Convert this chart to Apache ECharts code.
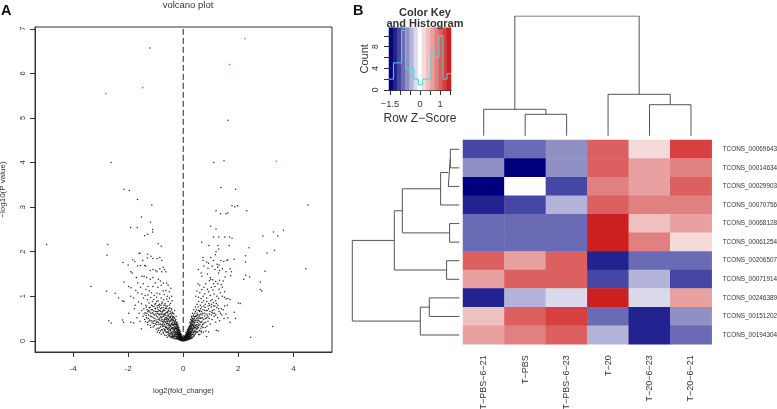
<!DOCTYPE html>
<html><head><meta charset="utf-8">
<style>html,body{margin:0;padding:0;background:#fff}#c{width:777px;height:409px}</style>
<script src="https://cdn.jsdelivr.net/npm/echarts@6/dist/echarts.min.js"></script>
</head><body><div id="c"></div>
<script>
const volcanoXTicks=[-4,-2,0,2,4];
const volcanoYTicks=[0,1,2,3,4,5,6,7];
const redPoints=[[-1.47,5.68],[-2.81,5.55],[3.38,4.03],[2.24,6.78],[1.68,6.2]];
const sparsePoints=[[-1.21,6.57],[1.63,4.95],[-2.62,4.0],[1.11,4.0],[1.48,4.04],[-2.15,3.4],[-1.96,3.37],[1.37,3.44],[1.9,3.4],[-1.66,3.17],[-1.14,3.05],[4.53,3.05],[1.77,3.03],[1.87,3.01],[1.97,3.03],[1.19,2.92],[1.35,2.85],[1.55,2.85],[1.62,2.87],[2.31,2.92],[-1.52,2.78],[-1.19,2.66],[-1.91,2.54],[-1.67,2.54],[-1.11,2.5],[-1.11,2.44],[-1.4,2.36],[-1.29,2.39],[1.0,2.57],[1.19,2.51],[3.64,2.48],[3.28,2.44],[2.89,2.35],[3.43,2.35],[1.1,2.33],[1.29,2.33],[1.51,2.33],[1.68,2.33],[1.77,2.3],[-0.91,2.18],[-0.8,2.12],[-2.74,2.16],[-4.96,2.16],[0.67,2.21],[0.93,2.14],[1.26,2.14],[1.67,2.14],[2.39,2.09],[3.31,2.03],[3.04,1.97],[1.29,2.06],[1.19,2.0],[-2.77,1.92],[-1.57,1.97],[-1.29,1.94],[2.26,1.91],[4.45,1.62],[2.97,1.56],[2.26,1.77],[2.41,1.43],[2.27,1.47],[2.2,1.38],[2.8,1.32],[2.8,1.15],[2.85,1.12],[2.0,0.85],[2.07,0.84],[2.45,0.08],[3.25,0.32],[1.85,0.64],[1.9,0.5],[-2.7,0.45],[-2.62,0.4],[-2.2,0.47],[-2.17,0.42],[-1.9,0.42],[-1.8,0.4],[1.2,0.24],[1.27,0.22],[0.85,0.1]];
const leftUpperPoints=[[-2.19,1.76],[-2.0,1.7],[-1.83,1.82],[-1.76,1.78],[-1.65,1.68],[-1.6,1.96],[-1.55,1.69],[-1.47,1.8],[-1.4,1.69],[-1.36,1.68],[-1.3,1.86],[-1.17,1.9],[-1.1,1.85],[-0.95,1.85],[-0.85,1.87],[-0.78,1.8],[-0.73,1.65],[-1.2,1.58],[-1.1,1.6],[-1.0,1.58],[-0.95,1.55],[-0.85,1.62],[-0.78,1.55],[-0.68,1.6],[-0.63,1.55],[-1.9,1.55],[-1.85,1.52],[-1.7,1.42],[-1.5,1.45],[-1.42,1.45],[-1.33,1.42],[-1.2,1.38],[-1.1,1.42],[-0.9,1.38],[-0.83,1.34],[-0.72,1.3],[-0.6,1.3],[-0.55,1.25],[-2.15,1.32],[-1.98,1.22],[-1.9,1.19],[-1.65,1.3],[-1.55,1.2],[-1.45,1.28],[-1.35,1.15],[-1.28,1.22],[-1.1,1.22],[-1.02,1.3],[-0.92,1.2],[-0.8,1.25],[-0.73,1.12],[-0.63,1.13],[-0.5,1.1],[-0.45,1.18],[-3.35,1.22],[-2.78,1.11],[-2.47,1.07],[-2.35,0.96],[-2.2,0.9],[-2.15,0.88],[-1.9,1.0],[-1.8,0.96],[-1.65,1.08],[-1.5,1.05],[-1.38,1.02],[-1.28,1.03],[-1.15,1.08],[-1.05,1.02],[-0.95,1.07],[-0.85,1.05],[-1.72,1.13],[-1.23,1.12],[-0.69,1.04],[-0.58,1.0],[-0.42,1.0],[-1.77,0.72],[-1.98,0.62],[-1.62,0.87],[-1.52,0.83],[-1.44,0.96],[-1.36,0.8],[-1.3,0.92],[-1.24,0.85],[-1.18,0.97],[-1.12,0.88],[-1.07,0.93],[-1.0,0.84],[-0.96,0.98],[-0.91,0.9],[-0.86,0.82],[-0.8,0.96],[-0.76,0.87],[-0.71,0.92],[-0.66,0.84],[-0.6,0.94],[-0.55,0.88],[-0.5,0.96],[-0.46,0.84],[-0.4,0.9]];
const leftMidPoints=[[-1.5,0.68],[-1.46,0.55],[-1.43,0.72],[-1.4,0.48],[-1.38,0.63],[-1.34,0.76],[-1.33,0.52],[-1.3,0.41],[-1.28,0.66],[-1.26,0.58],[-1.23,0.74],[-1.22,0.47],[-1.2,0.35],[-1.17,0.62],[-1.15,0.8],[-1.14,0.54],[-1.12,0.7],[-1.1,0.44],[-1.08,0.6],[-1.06,0.77],[-1.05,0.34],[-1.03,0.5],[-1.01,0.66],[-1.0,0.72],[-0.98,0.42],[-0.97,0.56],[-0.95,0.79],[-0.94,0.62],[-0.92,0.28],[-0.91,0.48],[-0.9,0.7],[-0.88,0.37],[-0.87,0.58],[-0.86,0.76],[-0.84,0.52],[-0.83,0.66],[-0.82,0.31],[-0.8,0.44],[-0.79,0.6],[-0.78,0.74],[-0.76,0.25],[-0.75,0.38],[-0.74,0.54],[-0.73,0.68],[-0.71,0.47],[-0.7,0.8],[-0.69,0.33],[-0.68,0.6],[-0.66,0.22],[-0.65,0.42],[-0.64,0.73],[-0.63,0.52],[-0.61,0.3],[-0.6,0.64],[-0.59,0.39],[-0.58,0.78],[-0.57,0.2],[-0.56,0.5],[-0.55,0.58],[-0.54,0.28],[-0.53,0.68],[-0.52,0.36],[-0.51,0.44],[-0.5,0.16],[-0.49,0.74],[-0.48,0.54],[-0.47,0.25],[-0.46,0.62],[-0.45,0.32],[-0.44,0.48],[-0.43,0.19],[-0.42,0.7],[-0.41,0.4],[-0.4,0.56],[-0.39,0.12],[-0.38,0.28],[-0.37,0.62],[-0.36,0.35],[-0.35,0.46],[-0.34,0.18],[-0.33,0.52],[-0.32,0.25],[-0.31,0.68],[-0.3,0.38],[-0.3,0.1],[-1.6,0.62],[-1.57,0.44],[-1.52,0.27],[-1.68,0.52],[-1.74,0.8],[-1.2,0.75],[-0.94,0.2],[-0.86,0.18],[-0.8,0.15],[-0.72,0.17],[-0.68,0.13],[-0.62,0.12],[-0.58,0.08],[-0.53,0.11],[-0.47,0.09],[-0.44,0.07],[-0.37,0.06],[-0.34,0.09],[-0.29,0.45],[-0.28,0.2],[-0.27,0.3],[-0.26,0.55],[-0.25,0.06],[-0.25,0.14],[-0.24,0.36],[-0.23,0.24],[-0.22,0.42],[-0.21,0.1],[-0.21,0.18],[-0.2,0.29],[-0.19,0.05],[-0.19,0.34],[-0.18,0.14],[-0.18,0.22],[-0.17,0.08],[-0.17,0.26],[-0.16,0.17],[-0.16,0.3],[-0.15,0.04],[-0.15,0.11],[-0.14,0.2],[-0.14,0.07],[-0.13,0.25],[-0.13,0.14],[-0.12,0.03],[-0.12,0.1],[-0.11,0.17],[-0.11,0.06],[-0.1,0.21],[-0.1,0.02],[-0.09,0.12],[-0.09,0.08],[-0.08,0.15],[-0.08,0.04],[-0.07,0.1],[-0.07,0.01],[-0.06,0.06],[-0.06,0.13],[-0.05,0.03],[-0.05,0.09],[-0.04,0.01],[-0.04,0.05],[-0.03,0.08],[-0.03,0.02],[-0.02,0.04],[-0.02,0.01],[-0.01,0.03],[-0.01,0.0]];
const leftDensePoints=[[-1.32,0.62],[-1.27,0.5],[-1.25,0.68],[-1.19,0.56],[-1.16,0.45],[-1.11,0.63],[-1.09,0.52],[-1.07,0.39],[-1.04,0.58],[-1.02,0.73],[-0.99,0.47],[-0.96,0.36],[-0.96,0.66],[-0.93,0.53],[-0.93,0.74],[-0.9,0.41],[-0.89,0.6],[-0.87,0.29],[-0.85,0.46],[-0.85,0.68],[-0.83,0.38],[-0.81,0.55],[-0.81,0.8],[-0.79,0.25],[-0.77,0.48],[-0.77,0.65],[-0.75,0.32],[-0.74,0.6],[-0.72,0.41],[-0.72,0.74],[-0.7,0.27],[-0.7,0.55],[-0.68,0.37],[-0.67,0.48],[-0.67,0.68],[-0.65,0.25],[-0.65,0.58],[-0.63,0.33],[-0.62,0.44],[-0.62,0.76],[-0.6,0.2],[-0.6,0.52],[-0.58,0.28],[-0.58,0.4],[-0.57,0.63],[-0.55,0.14],[-0.55,0.34],[-0.55,0.47],[-0.53,0.22],[-0.53,0.56],[-0.52,0.72],[-0.5,0.3],[-0.5,0.4],[-0.5,0.52],[-0.49,0.12],[-0.48,0.22],[-0.47,0.35],[-0.47,0.66],[-0.46,0.17],[-0.45,0.45],[-0.45,0.56],[-0.44,0.27],[-0.43,0.1],[-0.43,0.38],[-0.42,0.6],[-0.41,0.2],[-0.41,0.5],[-0.4,0.3],[-0.39,0.08],[-0.39,0.42],[-0.38,0.15],[-0.38,0.53],[-0.37,0.24],[-0.37,0.36],[-0.36,0.11],[-0.36,0.45],[-0.35,0.2],[-0.35,0.3],[-0.34,0.6],[-0.33,0.07],[-0.33,0.39],[-0.32,0.14],[-0.32,0.5],[-0.31,0.22],[-0.31,0.32],[-0.3,0.05],[-0.3,0.44],[-0.29,0.16],[-0.29,0.27],[-0.28,0.1],[-0.28,0.37],[-0.27,0.05],[-0.27,0.2],[-0.27,0.48],[-0.26,0.13],[-0.26,0.25],[-0.26,0.33],[-0.25,0.4],[-0.25,0.19],[-0.24,0.09],[-0.24,0.28],[-0.23,0.04],[-0.23,0.15],[-0.23,0.34],[-0.22,0.21],[-0.22,0.11],[-0.22,0.28],[-0.21,0.06],[-0.21,0.25],[-0.2,0.15],[-0.2,0.37],[-0.2,0.08],[-0.19,0.2],[-0.19,0.12],[-0.19,0.26],[-0.18,0.04],[-0.18,0.09],[-0.18,0.3],[-0.17,0.16],[-0.17,0.12],[-0.17,0.2],[-0.16,0.06],[-0.16,0.1],[-0.16,0.23],[-0.15,0.14],[-0.15,0.18],[-0.15,0.07],[-0.14,0.02],[-0.14,0.11],[-0.14,0.15],[-0.13,0.05],[-0.13,0.09],[-0.13,0.19],[-0.12,0.13],[-0.12,0.06],[-0.12,0.16],[-0.11,0.03],[-0.11,0.09],[-0.11,0.12],[-0.1,0.05],[-0.1,0.08],[-0.1,0.14],[-0.09,0.02],[-0.09,0.05],[-0.09,0.1],[-0.08,0.07],[-0.08,0.1],[-0.08,0.01],[-0.07,0.03],[-0.07,0.06],[-0.06,0.02],[-0.06,0.04],[-0.06,0.09],[-0.05,0.01],[-0.05,0.06],[-0.04,0.03],[-0.04,0.07],[-0.03,0.01],[-0.03,0.05],[-0.02,0.02],[-0.02,0.06],[-0.01,0.01],[-0.01,0.05]];
const leftFillPoints=[[-1.42,0.6],[-1.37,0.43],[-1.35,0.57],[-1.31,0.7],[-1.29,0.36],[-1.24,0.44],[-1.21,0.65],[-1.18,0.3],[-1.16,0.7],[-1.13,0.4],[-1.11,0.78],[-1.09,0.31],[-1.07,0.67],[-1.05,0.45],[-1.03,0.82],[-1.0,0.38],[-0.99,0.6],[-0.98,0.26],[-0.96,0.88],[-0.94,0.43],[-0.92,0.66],[-0.9,0.24],[-0.89,0.8],[-0.87,0.49],[-0.84,0.6],[-0.83,0.22],[-0.82,0.72],[-0.8,0.36],[-0.79,0.52],[-0.78,0.84],[-0.76,0.44],[-0.75,0.66],[-0.73,0.2],[-0.73,0.35],[-0.71,0.58],[-0.7,0.7],[-0.69,0.44],[-0.68,0.24],[-0.66,0.5],[-0.66,0.8],[-0.64,0.3],[-0.64,0.62],[-0.62,0.19],[-0.61,0.38],[-0.61,0.48],[-0.6,0.72],[-0.59,0.56],[-0.57,0.26],[-0.57,0.44],[-0.56,0.66],[-0.54,0.18],[-0.54,0.38],[-0.53,0.48],[-0.51,0.26],[-0.51,0.6],[-0.5,0.8],[-0.49,0.34],[-0.48,0.44],[-0.46,0.24],[-0.46,0.52],[-0.44,0.14],[-0.44,0.36],[-0.43,0.72],[-0.42,0.28],[-0.42,0.46],[-0.4,0.17],[-0.4,0.64],[-0.39,0.36],[-0.38,0.48],[-0.37,0.1],[-0.36,0.26],[-0.35,0.54],[-0.34,0.36],[-0.33,0.2],[-0.33,0.28],[-0.32,0.42],[-0.31,0.12],[-0.29,0.36],[-0.28,0.28],[-0.28,0.15],[-0.26,0.42],[-0.25,0.28],[-0.24,0.18],[-0.24,0.06],[-0.23,0.38],[-0.22,0.15],[-0.21,0.32],[-0.2,0.22],[-0.19,0.16],[-0.18,0.26],[-0.17,0.04],[-0.16,0.14],[-0.15,0.24],[-0.14,0.09],[-0.13,0.17],[-0.12,0.09],[-0.11,0.15],[-0.1,0.11],[-0.09,0.07],[-0.08,0.13],[-0.07,0.08]];
const rightUpperPoints=[[0.72,1.87],[0.72,1.8],[0.85,1.77],[0.92,1.74],[1.0,1.87],[1.1,1.8],[1.17,1.93],[1.23,1.72],[1.3,1.7],[1.37,1.8],[1.47,1.78],[1.58,1.8],[1.62,1.82],[1.85,1.83],[0.75,1.68],[0.9,1.63],[1.05,1.68],[1.15,1.6],[1.25,1.65],[1.32,1.58],[1.42,1.62],[1.55,1.55],[1.7,1.62],[1.75,1.55],[0.55,1.6],[0.65,1.52],[0.68,1.45],[0.88,1.5],[0.98,1.42],[1.28,1.52],[1.52,1.43],[1.72,1.46],[0.95,1.35],[1.0,1.38],[1.07,1.37],[1.1,1.28],[1.18,1.33],[1.25,1.28],[1.32,1.36],[1.38,1.26],[1.45,1.34],[0.54,1.28],[0.6,1.25],[0.75,1.2],[0.82,1.28],[0.88,1.16],[1.02,1.2],[1.08,1.14],[1.15,1.22],[1.3,1.16],[1.42,1.2],[1.5,1.1],[0.5,1.12],[0.6,1.08],[0.68,1.15],[0.78,1.05],[0.92,1.1],[0.98,1.02],[1.12,1.05],[1.22,1.0],[1.35,1.08],[1.42,1.0],[1.5,0.98],[1.55,0.94],[1.62,0.95],[1.7,0.93],[0.45,1.0],[0.55,0.98],[0.65,0.95],[0.72,1.0],[0.85,0.96],[1.05,0.93],[1.18,0.9],[1.28,0.95]];
const rightMidPoints=[[1.2,0.84],[1.1,0.86],[1.0,0.9],[0.93,0.84],[0.86,0.88],[0.8,0.82],[0.74,0.9],[0.68,0.86],[0.62,0.8],[0.56,0.88],[0.5,0.82],[0.44,0.76],[0.38,0.7],[0.34,0.62],[0.3,0.55],[0.27,0.48],[1.5,0.78],[1.38,0.72],[1.3,0.66],[1.22,0.75],[1.12,0.7],[1.08,0.62],[1.02,0.76],[0.97,0.66],[0.92,0.72],[0.88,0.58],[0.84,0.68],[0.8,0.75],[0.76,0.62],[0.72,0.7],[0.7,0.52],[0.66,0.66],[0.63,0.72],[0.6,0.58],[0.58,0.44],[0.55,0.68],[0.53,0.52],[0.5,0.62],[0.48,0.36],[0.46,0.56],[0.44,0.66],[0.42,0.46],[0.4,0.3],[0.38,0.58],[0.36,0.38],[0.34,0.5],[0.32,0.22],[0.31,0.42],[0.29,0.33],[0.28,0.15],[0.26,0.4],[0.25,0.26],[0.24,0.33],[0.23,0.1],[0.22,0.18],[0.21,0.3],[0.2,0.23],[0.19,0.06],[0.19,0.14],[0.18,0.27],[0.17,0.2],[0.16,0.09],[0.16,0.25],[0.15,0.15],[0.14,0.04],[0.14,0.22],[0.13,0.11],[0.13,0.18],[0.12,0.07],[0.11,0.15],[0.11,0.02],[0.1,0.1],[0.1,0.19],[0.09,0.05],[0.09,0.13],[0.08,0.08],[0.08,0.02],[0.07,0.11],[0.07,0.04],[0.06,0.07],[0.06,0.01],[0.05,0.09],[0.05,0.03],[0.04,0.05],[0.04,0.01],[0.03,0.07],[0.03,0.02],[0.02,0.03],[0.02,0.0],[0.01,0.02],[0.0,0.01],[0.0,0.04],
[1.55,0.6],[1.62,0.52],[1.7,0.42],[1.48,0.5],[1.4,0.58],[1.32,0.45],[1.25,0.52],[1.18,0.42],[1.12,0.55],[1.05,0.48],[0.98,0.38],[0.9,0.44],[0.86,0.33],[0.8,0.5],[0.76,0.4],[0.72,0.3],[0.68,0.44],[0.64,0.28],[0.61,0.36],[0.58,0.24],[0.55,0.3],[0.52,0.42],[0.5,0.2],[0.47,0.28],[0.45,0.16],[0.43,0.34],[0.41,0.22],[0.39,0.12],[0.37,0.2],[0.35,0.26],[0.33,0.14],[0.3,0.08],[0.3,0.18],[0.27,0.2],[0.27,0.06],[0.25,0.13],[0.22,0.05],[0.6,0.14],[0.66,0.18],[0.74,0.2],[0.82,0.22],[0.92,0.2]];
const rightDensePoints=[[1.15,0.78],[1.06,0.68],[0.95,0.6],[0.9,0.78],[0.83,0.6],[0.78,0.68],[0.74,0.48],[0.7,0.62],[0.67,0.76],[0.65,0.52],[0.62,0.42],[0.6,0.68],[0.58,0.54],[0.57,0.34],[0.55,0.46],[0.54,0.76],[0.52,0.28],[0.51,0.58],[0.5,0.36],[0.49,0.5],[0.48,0.7],[0.47,0.2],[0.46,0.42],[0.45,0.3],[0.44,0.54],[0.43,0.24],[0.42,0.62],[0.41,0.38],[0.4,0.14],[0.4,0.5],[0.39,0.28],[0.38,0.44],[0.37,0.1],[0.37,0.32],[0.36,0.18],[0.36,0.55],[0.35,0.42],[0.34,0.08],[0.34,0.24],[0.33,0.34],[0.33,0.46],[0.32,0.15],[0.32,0.28],[0.31,0.06],[0.31,0.2],[0.31,0.52],[0.3,0.36],[0.3,0.26],[0.29,0.12],[0.29,0.44],[0.28,0.22],[0.28,0.32],[0.27,0.09],[0.27,0.38],[0.27,0.14],[0.26,0.04],[0.26,0.18],[0.26,0.28],[0.25,0.08],[0.25,0.35],[0.25,0.2],[0.24,0.12],[0.24,0.26],[0.24,0.42],[0.23,0.16],[0.23,0.22],[0.23,0.3],[0.22,0.08],[0.22,0.25],[0.22,0.12],[0.21,0.04],[0.21,0.15],[0.21,0.2],[0.2,0.1],[0.2,0.28],[0.2,0.06],[0.19,0.18],[0.19,0.1],[0.19,0.24],[0.18,0.03],[0.18,0.08],[0.18,0.14],[0.18,0.2],[0.17,0.06],[0.17,0.11],[0.17,0.16],[0.17,0.24],[0.16,0.02],[0.16,0.13],[0.16,0.19],[0.15,0.07],[0.15,0.1],[0.15,0.2],[0.14,0.13],[0.14,0.08],[0.14,0.17],[0.13,0.03],[0.13,0.06],[0.13,0.14],[0.12,0.1],[0.12,0.13],[0.12,0.04],[0.11,0.07],[0.11,0.11],[0.11,0.13],[0.1,0.03],[0.1,0.06],[0.1,0.14],[0.09,0.02],[0.09,0.09],[0.09,0.11],[0.08,0.05],[0.08,0.11],[0.07,0.02],[0.07,0.07],[0.06,0.04],[0.06,0.1],[0.05,0.01],[0.05,0.06],[0.04,0.03],[0.04,0.08],[0.03,0.04],[0.02,0.06],[0.01,0.04],[0.0,0.02],[0.0,0.06],[-0.01,0.08],[0.01,0.07],[1.03,0.82],[1.14,0.62],[1.26,0.8],[1.35,0.62],[1.45,0.7],[1.6,0.8],[1.02,0.58],[0.94,0.5],[0.85,0.52],[0.8,0.3],[0.7,0.36],[0.66,0.22],[0.63,0.6],[0.56,0.14]];
const rightFillPoints=[[1.28,0.72],[1.18,0.58],[1.1,0.78],[1.04,0.64],[0.96,0.8],[0.9,0.54],[0.87,0.68],[0.82,0.42],[0.78,0.56],[0.75,0.78],[0.72,0.38],[0.69,0.58],[0.67,0.32],[0.65,0.42],[0.63,0.5],[0.61,0.22],[0.59,0.66],[0.57,0.5],[0.56,0.38],[0.54,0.58],[0.53,0.2],[0.51,0.32],[0.5,0.46],[0.49,0.26],[0.48,0.56],[0.46,0.34],[0.45,0.46],[0.44,0.2],[0.42,0.3],[0.41,0.54],[0.4,0.42],[0.39,0.2],[0.38,0.34],[0.37,0.48],[0.36,0.28],[0.35,0.14],[0.35,0.36],[0.34,0.44],[0.33,0.24],[0.32,0.38],[0.31,0.3],[0.3,0.46],[0.29,0.2],[0.28,0.38],[0.27,0.28],[0.26,0.34],[0.25,0.16],[0.24,0.2],[0.23,0.26],[0.22,0.32],[0.21,0.1],[0.2,0.16],[0.19,0.2],[0.18,0.11],[0.17,0.04],[0.16,0.16],[0.15,0.12],[0.14,0.1],[0.13,0.08],[0.12,0.15],[0.11,0.05],[0.1,0.12],[0.09,0.07],[0.08,0.13],[0.07,0.09]];
const colLabels=["T\u2212PBS\u22126\u221221","T\u2212PBS","T\u2212PBS\u22126\u221223","T\u221220","T\u221220\u22126\u221223","T\u221220\u22126\u221221"];
const rowLabels=["TCONS_00069643","TCONS_00014634","TCONS_00029903","TCONS_00070756","TCONS_00068128","TCONS_00061254","TCONS_00206507","TCONS_00071914","TCONS_00246389","TCONS_00151202","TCONS_00194304"];
const zRow0=[-1.0,-0.8,-0.6,1.0,0.2,1.2];
const zRow1=[-0.6,-1.4,-0.6,1.0,0.6,0.8];
const zRow2=[-1.4,0,-1.0,0.8,0.6,1.0];
const zRow3=[-1.2,-1.0,-0.4,1.0,0.8,0.8];
const zRow4=[-0.8,-0.8,-0.8,1.4,0.4,0.6];
const zRow5=[-0.8,-0.8,-0.8,1.4,0.8,0.2];
const zRow6=[1.0,0.6,1.0,-1.2,-0.8,-0.8];
const zRow7=[0.6,1.0,1.0,-1.0,-0.4,-1.0];
const zRow8=[-1.2,-0.4,-0.2,1.4,-0.2,0.6];
const zRow9=[0.4,1.0,1.2,-0.8,-1.2,-0.6];
const zRow10=[0.6,0.8,1.0,-0.4,-1.2,-0.8];
const zPalette=['#00007f','#222290','#4646a5','#6b6bb5','#9090c5','#b4b4da','#dadaec','#ffffff','#f5dada','#f0c0c0','#e8a0a0','#e08080','#dc6060','#d64040','#cc2020'];
const keyBins=[-1.4,-1.2,-1.0,-0.8,-0.6,-0.4,-0.2,0,0.2,0.4,0.6,0.8,1.0,1.2,1.4];
const histEdges=[-1.55,-1.33,-0.92,-0.72,-0.3,-0.08,0.13,0.55,0.75,0.95,1.15,1.35,1.55];
const histCounts=[2,5,11,4,2,1,2,7,6,10,2,3,3];
const keyXTicks=[-1.5,-1,-0.5,0,0.5,1,1.5];
const keyXLabels=[-1.5,0,1];
const keyYTicks=[0,2,4,6,8,10];
const keyYLabels=[0,4,8];
const colMerges=[[1,2,21.4],[0,-1,26.4],[4,5,31],[3,-3,41.4],[-2,-4,119.7]];
const rowMerges=[[0,1,9],[-1,2,11],[-2,3,18.7],[4,5,9.7],[-3,-4,57],[6,7,12.7],[-5,-6,65],[8,9,30],[-8,10,39],[-7,-9,107]];

function tree(merges){
  const nodes=[];const out=[];
  const get=r=>r>=0?{p:r+0.5,h:0}:nodes[-r-1];
  merges.forEach(m=>{
    const a=get(m[0]),b=get(m[1]),h=m[2];
    out.push([a.p,a.h],[a.p,h],[b.p,h],[b.p,b.h],[null,null]);
    nodes.push({p:(a.p+b.p)/2,h});
  });
  return out;
}
const font='Liberation Sans, Arial, sans-serif';
const txt='#333';
const allZ=[zRow0,zRow1,zRow2,zRow3,zRow4,zRow5,zRow6,zRow7,zRow8,zRow9,zRow10];
const heatData=[];allZ.forEach((r,j)=>r.forEach((v,i)=>heatData.push([i,j,v])));
const keyData=keyBins.map((v,i)=>[i,0,v]);
const blackPoints=[].concat(sparsePoints,leftUpperPoints,leftMidPoints,leftDensePoints,leftFillPoints,rightUpperPoints,rightMidPoints,rightDensePoints,rightFillPoints);
const hidden={show:false};
const hideAxis=o=>Object.assign({show:false,axisLine:hidden,axisTick:hidden,axisLabel:hidden,splitLine:hidden},o);
const chart=echarts.init(document.getElementById('c'),null,{renderer:'canvas'});
const gridBase={outerBoundsMode:'none',containLabel:false};
chart.setOption({
 animation:false,backgroundColor:'#fff',
 textStyle:{fontFamily:font},
 title:[
  {text:'volcano plot',left:183,top:-4.5,textAlign:'center',textStyle:{fontSize:9.5,fontWeight:'normal',color:txt,fontFamily:font}},
  {text:'A',left:-4,top:-2,textStyle:{fontSize:14.5,fontWeight:'bold',color:'#111',fontFamily:font}},
  {text:'B',left:348,top:-2,textStyle:{fontSize:14.5,fontWeight:'bold',color:'#111',fontFamily:font}},
  {text:'Color Key\nand Histogram',left:420,top:2,textAlign:'center',textStyle:{fontSize:11,lineHeight:11.5,fontWeight:'bold',color:txt,fontFamily:font}}
 ],
 grid:[
  Object.assign({left:35,top:27,width:297,height:325,show:true,borderColor:'#333',borderWidth:1,backgroundColor:'#fff'},gridBase),
  Object.assign({left:463,top:140,width:248.7,height:204.3},gridBase),
  Object.assign({left:389,top:27.7,width:62,height:62.3},gridBase),
  Object.assign({left:463,top:16,width:248.7,height:119.7},gridBase),
  Object.assign({left:352.3,top:140,width:107,height:204.3},gridBase)
 ],
 visualMap:[{show:false,type:'continuous',min:-1.4,max:1.4,seriesIndex:[3,4],inRange:{color:zPalette}}],
 xAxis:[
  {gridIndex:0,type:'value',min:-5.38,max:5.4,splitLine:hidden,
   name:'log2(fold_change)',nameLocation:'middle',nameGap:35,nameTextStyle:{fontSize:7.6,color:txt},
   axisLine:{onZero:false,lineStyle:{color:'#333'}},axisTick:{length:5,customValues:volcanoXTicks,lineStyle:{color:'#333'}},
   axisLabel:{customValues:volcanoXTicks,fontSize:8,color:txt,margin:13,formatter:v=>String(v)}},
  {gridIndex:1,type:'category',data:colLabels,axisLine:hidden,axisTick:hidden,splitLine:hidden,
   axisLabel:{rotate:90,fontSize:9,color:txt,margin:11,interval:0,padding:[0,0,5,0]}},
  {gridIndex:2,type:'category',data:keyBins.map(String),show:false},
  {gridIndex:2,type:'value',min:-1.55,max:1.55,position:'bottom',splitLine:hidden,
   name:'Row Z\u2212Score',nameLocation:'middle',nameGap:23,nameTextStyle:{fontSize:12,color:txt},
   axisLine:{onZero:false,lineStyle:{color:'#333'}},axisTick:{length:5,customValues:keyXTicks,lineStyle:{color:'#333'}},
   axisLabel:{customValues:keyXLabels,fontSize:9.3,color:txt,margin:10,formatter:v=>String(v).replace('-','\u2212')}},
  hideAxis({gridIndex:3,type:'value',min:0,max:6}),
  hideAxis({gridIndex:4,type:'value',min:0,max:107,inverse:true})
 ],
 yAxis:[
  {gridIndex:0,type:'value',min:-0.25,max:7.04,splitLine:hidden,
   name:'\u2212log10(P value)',nameLocation:'middle',nameGap:28,nameTextStyle:{fontSize:8,color:txt},
   axisLine:{onZero:false,lineStyle:{color:'#333'}},axisTick:{length:5,customValues:volcanoYTicks,lineStyle:{color:'#333'}},
   axisLabel:{customValues:volcanoYTicks,fontSize:7.5,color:txt,rotate:90,margin:8,formatter:v=>String(v)}},
  {gridIndex:1,type:'category',data:rowLabels,inverse:true,position:'right',axisLine:hidden,axisTick:hidden,splitLine:hidden,
   axisLabel:{fontSize:6.4,color:txt,margin:11,interval:0}},
  {gridIndex:2,type:'category',data:['key'],show:false},
  {gridIndex:2,type:'value',min:0,max:11.5,position:'left',splitLine:hidden,
   name:'Count',nameLocation:'middle',nameGap:18,nameTextStyle:{fontSize:11,color:txt},
   axisLine:{show:true,onZero:false,lineStyle:{color:'#333'}},axisTick:{show:true,length:5,customValues:keyYTicks,lineStyle:{color:'#333'}},
   axisLabel:{customValues:keyYLabels,fontSize:8.5,color:txt,rotate:90,margin:9,formatter:v=>String(v)}},
  hideAxis({gridIndex:3,type:'value',min:0,max:119.7}),
  hideAxis({gridIndex:4,type:'value',min:0,max:11,inverse:true})
 ],
 series:[
  {type:'scatter',xAxisIndex:0,yAxisIndex:0,data:blackPoints,symbolSize:1.5,itemStyle:{color:'#111',opacity:0.9},silent:true,large:false},
  {type:'scatter',xAxisIndex:0,yAxisIndex:0,data:redPoints,symbolSize:1.6,itemStyle:{color:'#c83030'},silent:true},
  {type:'line',xAxisIndex:0,yAxisIndex:0,data:[[0,0],[0,7]],showSymbol:false,silent:true,lineStyle:{color:'#222',width:1,type:[6,3]}},
  {type:'heatmap',xAxisIndex:1,yAxisIndex:1,data:heatData,silent:true},
  {type:'heatmap',xAxisIndex:2,yAxisIndex:2,data:keyData,silent:true},
  {type:'line',xAxisIndex:3,yAxisIndex:3,step:'end',data:histEdges.map((e,i)=>[e,histCounts[i]]),showSymbol:false,silent:true,lineStyle:{color:'#48d8d8',width:1}},
  {type:'line',xAxisIndex:4,yAxisIndex:4,data:tree(colMerges),showSymbol:false,silent:true,connectNulls:false,lineStyle:{color:'#555',width:1}},
  {type:'line',xAxisIndex:5,yAxisIndex:5,data:tree(rowMerges).map(d=>[d[1],d[0]]),showSymbol:false,silent:true,connectNulls:false,lineStyle:{color:'#555',width:1}}
 ]
});
</script></body></html>
